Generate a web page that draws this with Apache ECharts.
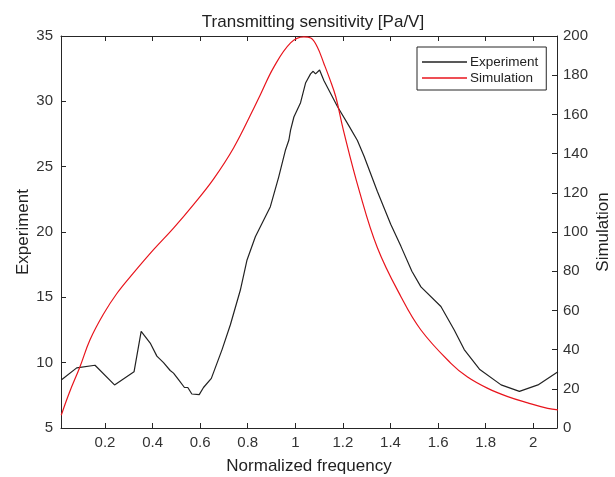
<!DOCTYPE html>
<html>
<head>
<meta charset="utf-8">
<title>Transmitting sensitivity</title>
<script src="https://cdn.jsdelivr.net/npm/echarts@6/dist/echarts.min.js"></script>
<style>
  html, body { margin: 0; padding: 0; background: #fff; }
  #chart { width: 615px; height: 477px; }
</style>
</head>
<body>
<div id="chart"></div>
<script>
// experiment curve (left axis)
const expFreq = [0.016, 0.081, 0.158, 0.240, 0.322, 0.352, 0.390, 0.418, 0.446, 0.474, 0.488, 0.509, 0.534, 0.548, 0.565, 0.596, 0.614, 0.647, 0.692, 0.727, 0.769, 0.797, 0.832, 0.895, 0.930, 0.959, 0.973, 0.980, 0.994, 1.022, 1.043, 1.064, 1.075, 1.085, 1.102, 1.120, 1.177, 1.226, 1.261, 1.289, 1.345, 1.401, 1.444, 1.490, 1.528, 1.612, 1.668, 1.710, 1.774, 1.865, 1.942, 2.020, 2.104]
const expVal = [8.67, 9.6, 9.8, 8.3, 9.3, 12.4, 11.5, 10.5, 10.0, 9.4, 9.2, 8.7, 8.1, 8.1, 7.6, 7.55, 8.1, 8.8, 11.0, 12.9, 15.56, 17.86, 19.64, 21.94, 24.2, 26.3, 27.04, 27.8, 28.8, 29.9, 31.4, 32.1, 32.3, 32.1, 32.4, 31.6, 29.6, 28.1, 27.0, 25.8, 23.1, 20.6, 18.9, 17.0, 15.8, 14.3, 12.5, 11.0, 9.5, 8.3, 7.8, 8.3, 9.3]

// simulation curve (right axis)
const simFreq = [0.016, 0.050, 0.094, 0.137, 0.193, 0.249, 0.319, 0.404, 0.488, 0.572, 0.656, 0.741, 0.825, 0.853, 0.909, 0.980, 1.036, 1.065, 1.092, 1.120, 1.145, 1.170, 1.202, 1.268, 1.345, 1.444, 1.528, 1.654, 1.724, 1.809, 1.893, 1.977, 2.061, 2.104]
const simVal = [6.5, 18, 31, 45, 58, 68.5, 79, 91, 102, 114, 127, 143, 163, 170, 184, 196.5, 199.6, 199, 194.5, 186, 178, 169, 152, 121.4, 92, 67, 50, 33, 26, 20.2, 16, 12.8, 10, 9.2]

// x tick positions / labels
const xTicks = [0.2, 0.4, 0.6, 0.8, 1, 1.2, 1.4, 1.6, 1.8, 2]

const chartTitle = 'Transmitting sensitivity [Pa/V]'
const xName = 'Normalized frequency'
const seriesNames = ['Experiment', 'Simulation']

const font = "'Liberation Sans', Arial, sans-serif"
const axisColor = '#262626'

const chart = echarts.init(document.getElementById('chart'))

const option = {
  animation: false,
  title: {
    text: chartTitle,
    left: 308,
    textAlign: 'center',
    top: 9,
    textStyle: { color: '#222', fontWeight: 'normal', fontFamily: font, fontSize: 17 }
  },
  legend: {
    data: seriesNames,
    orient: 'vertical',
    left: 417,
    top: 47,
    icon: 'rect',
    itemWidth: 45,
    itemHeight: 1.5,
    itemGap: 2,
    padding: [8, 8, 5, 5],
    backgroundColor: '#fff',
    borderColor: axisColor,
    borderWidth: 1,
    borderRadius: 0,
    selectedMode: false,
    textStyle: { color: '#222', fontFamily: font, fontSize: 13.5, padding: [0, 0, 0, -2] }
  },
  // fixed box, no auto shrinking for labels
  grid: { left: 61, right: 58, top: 36, bottom: 49, containLabel: false, outerBoundsMode: 'none' },
  xAxis: [
    {
      type: 'value',
      position: 'bottom',
      min: 0.015,
      max: 2.1,
      name: xName,
      nameLocation: 'middle',
      nameGap: 30,
      nameTextStyle: { color: '#222', fontFamily: font, fontSize: 17 },
      axisLine: { show: true, lineStyle: { color: axisColor, width: 1 } },
      axisTick: { show: true, inside: true, length: 5, customValues: xTicks, lineStyle: { color: axisColor } },
      axisLabel: { color: '#333', fontFamily: font, fontSize: 15, margin: 7, customValues: xTicks },
      splitLine: { show: false }
    },
    {
      // top edge of the box
      type: 'value',
      position: 'top',
      min: 0.015,
      max: 2.1,
      axisLine: { show: true, lineStyle: { color: axisColor, width: 1 } },
      axisTick: { show: true, inside: true, length: 5, customValues: xTicks, lineStyle: { color: axisColor } },
      axisLabel: { show: false },
      splitLine: { show: false }
    }
  ],
  yAxis: [
    {
      type: 'value',
      position: 'left',
      min: 5,
      max: 35,
      interval: 5,
      name: seriesNames[0],
      nameLocation: 'middle',
      nameRotate: 90,
      nameGap: 29,
      nameMoveOverlap: false,
      nameTextStyle: { color: '#222', fontFamily: font, fontSize: 17 },
      axisLine: { show: true, lineStyle: { color: axisColor, width: 1 } },
      axisTick: { show: true, inside: true, length: 5, lineStyle: { color: axisColor } },
      axisLabel: { color: '#333', fontFamily: font, fontSize: 15, margin: 8 },
      splitLine: { show: false }
    },
    {
      type: 'value',
      position: 'right',
      min: 0,
      max: 200,
      interval: 20,
      name: seriesNames[1],
      nameLocation: 'middle',
      nameRotate: 90,
      nameGap: 38,
      nameMoveOverlap: false,
      nameTextStyle: { color: '#222', fontFamily: font, fontSize: 17 },
      axisLine: { show: true, lineStyle: { color: axisColor, width: 1 } },
      axisTick: { show: true, inside: true, length: 5, lineStyle: { color: axisColor } },
      axisLabel: { color: '#333', fontFamily: font, fontSize: 15, margin: 6 },
      splitLine: { show: false }
    }
  ],
  series: [
    {
      name: seriesNames[0],
      type: 'line',
      xAxisIndex: 0,
      yAxisIndex: 0,
      showSymbol: false,
      data: expFreq.map((f, i) => [f, expVal[i]]),
      lineStyle: { color: '#222', width: 1.2 },
      itemStyle: { color: '#222' }
    },
    {
      name: seriesNames[1],
      type: 'line',
      xAxisIndex: 0,
      yAxisIndex: 1,
      smooth: 0.4,
      showSymbol: false,
      data: simFreq.map((f, i) => [f, simVal[i]]),
      lineStyle: { color: '#e8141c', width: 1.2 },
      itemStyle: { color: '#e8141c' }
    }
  ]
}

chart.setOption(option)
</script>
</body>
</html>
